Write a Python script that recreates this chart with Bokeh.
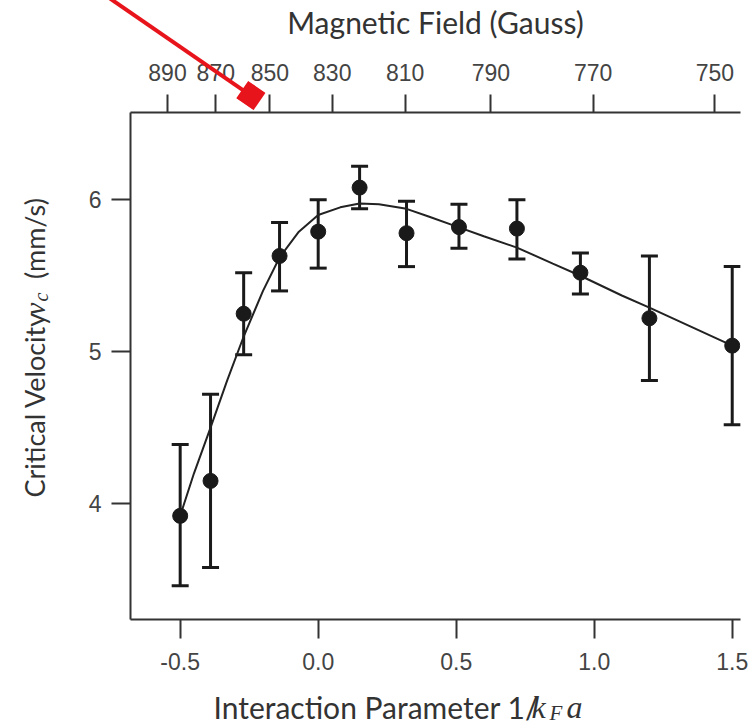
import math
from bokeh.plotting import figure
from bokeh.models import (ColumnDataSource, Whisker, TeeHead, LinearAxis, FixedTicker,
                          Range1d, Label, Arrow, NormalHead, CustomJSTickFormatter,
                          NumeralTickFormatter)
from bokeh.embed import file_html
from bokeh.resources import INLINE

# ---------------- data ----------------
interaction = [-0.50, -0.39, -0.27, -0.14, 0.00, 0.15, 0.32, 0.51, 0.72, 0.95, 1.20, 1.50]
velocity    = [3.92, 4.15, 5.25, 5.63, 5.79, 6.08, 5.78, 5.82, 5.81, 5.52, 5.22, 5.04]
err_upper   = [4.39, 4.72, 5.52, 5.85, 6.00, 6.22, 5.99, 5.97, 6.00, 5.65, 5.63, 5.56]
err_lower   = [3.46, 3.58, 4.98, 5.40, 5.55, 5.94, 5.56, 5.68, 5.61, 5.38, 4.81, 4.52]

fit_x = [-0.50, -0.45, -0.39, -0.33, -0.27, -0.20, -0.14, -0.07, 0.00, 0.08, 0.15,
         0.22, 0.32, 0.40, 0.50, 0.60, 0.72, 0.85, 0.95, 1.10, 1.20, 1.35, 1.50]
fit_v = [3.92, 4.20, 4.50, 4.81, 5.10, 5.40, 5.62, 5.79, 5.90, 5.95, 5.975,
         5.97, 5.94, 5.89, 5.825, 5.76, 5.685, 5.58, 5.50, 5.37, 5.29, 5.165, 5.04]

bottom_ticks = [-0.5, 0.0, 0.5, 1.0, 1.5]
left_ticks = [4, 5, 6]
field_labels = ["890", "870", "850", "830", "810", "790", "770", "750"]
field_tick_pos = [-0.546, -0.371, -0.175, 0.051, 0.315, 0.626, 0.996, 1.437]

# ---------------- layout ----------------
W, H = 756, 726
FL, FR, FT, FB = 129, 740, 111, 619
X0, X1 = -0.680, 1.530
Y0, Y1 = 3.238, 6.574

p = figure(width=W, height=H, x_range=Range1d(X0, X1), y_range=Range1d(Y0, Y1),
           output_backend="svg", toolbar_location=None,
           min_border_left=FL, min_border_right=W - FR,
           min_border_top=FT, min_border_bottom=H - FB)
p.grid.visible = False
p.outline_line_color = None
p.background_fill_color = "white"
p.border_fill_color = "white"

AX = "#333333"
TICK_FONT = "Liberation Sans"
LABEL_FONT = "Lato"
SERIF = "Liberation Serif"


def style(ax, standoff, tick_out=19):
    ax.axis_line_color = AX
    ax.axis_line_width = 2
    ax.major_tick_line_color = AX
    ax.major_tick_line_width = 2
    ax.major_tick_in = 0
    ax.major_tick_out = tick_out
    ax.minor_tick_line_color = None
    ax.major_label_text_font = TICK_FONT
    ax.major_label_text_font_size = "23px"
    ax.major_label_text_color = "#444444"
    ax.major_label_standoff = standoff


# ---------------- axes ----------------
xb = p.xaxis[0]
xb.ticker = FixedTicker(ticks=bottom_ticks)
xb.formatter = NumeralTickFormatter(format="0.0")
style(xb, 14)

yl = p.yaxis[0]
yl.ticker = FixedTicker(ticks=left_ticks)
style(yl, 10)

top_axis = LinearAxis(
    ticker=FixedTicker(ticks=field_tick_pos),
    formatter=CustomJSTickFormatter(args=dict(pos=field_tick_pos, lab=field_labels), code="""
        let best = 0, bd = 1e9;
        for (let i = 0; i < pos.length; i++) {
            const d = Math.abs(pos[i] - tick);
            if (d < bd) { bd = d; best = i; }
        }
        return lab[best];
    """))
style(top_axis, 14, tick_out=18)
top_axis.axis_label = "Magnetic Field (Gauss)"
top_axis.axis_label_text_font = LABEL_FONT
top_axis.axis_label_text_font_size = "30px"
top_axis.axis_label_text_font_style = "normal"
top_axis.axis_label_text_color = AX
top_axis.axis_label_standoff = 21
p.add_layout(top_axis, "above")

# ---------------- glyphs ----------------
src = ColumnDataSource(dict(x=interaction, v=velocity, lo=err_lower, hi=err_upper))

p.line(fit_x, fit_v, line_width=2, line_color="#222222")

p.add_layout(Whisker(base="x", upper="hi", lower="lo", source=src, dimension="height",
                     line_width=3, line_color="#1a1a1a",
                     upper_head=TeeHead(size=17, line_width=3, line_color="#1a1a1a"),
                     lower_head=TeeHead(size=17, line_width=3, line_color="#1a1a1a")))

p.scatter("x", "v", source=src, size=15, fill_color="#1a1a1a", line_color="#1a1a1a")

# ---------------- axis titles (canvas pixel Labels held in the side panels) ----------------
C = dict(x_units="canvas", y_units="canvas", text_color=AX,
         text_align="left", text_baseline="alphabetic")
A = math.pi / 2

# left title: rotated, drawn on the left
p.add_layout(Label(x=34, y=497, text="Critical Velocity\u2003\u2002(mm/s)", angle=A,
                   text_font=LABEL_FONT, text_font_size="27px", **C), "left")
p.add_layout(Label(x=40, y=301, text="c", angle=A, text_font=SERIF,
                   text_font_style="italic", text_font_size="20px", **C), "left")
p.add_layout(Label(x=34, y=315, text="v", angle=A, text_font=SERIF,
                   text_font_style="italic", text_font_size="29px", **C), "below")

# bottom title: drawn along the bottom
p.add_layout(Label(x=213, y=706, text="Interaction Parameter 1/",
                   text_font=LABEL_FONT, text_font_size="30px", **C), "below")
p.add_layout(Label(x=531, y=706, text="k", text_font=SERIF, text_font_style="italic",
                   text_font_size="32px", **C), "left")
p.add_layout(Label(x=566, y=706, text="a", text_font=SERIF, text_font_style="italic",
                   text_font_size="32px", **C), "left")
p.add_layout(Label(x=549, y=712, text="F", text_font=SERIF, text_font_style="italic",
                   text_font_size="21px", **C), "right")

# ---------------- red arrow overlay (canvas pixels) ----------------
RED = "#e8141b"
sx0, sy0, tx, ty = 95.0, -12.0, 259.0, 101.0
L = math.hypot(tx - sx0, ty - sy0)
ux, uy = (tx - sx0) / L, (ty - sy0) / L
# shaft: the body shows through the (large) head region outside the frame
p.add_layout(Arrow(x_start=sx0, y_start=sy0, x_end=tx - ux * 6, y_end=ty - uy * 6,
                   start_units="canvas", end_units="canvas", line_color=RED, line_width=4,
                   end=NormalHead(size=L, fill_color=RED, fill_alpha=0.0,
                                  line_color=RED, line_alpha=0.0)))
# head: a wide body clipped by the head shape
p.add_layout(Arrow(x_start=tx - ux * 40, y_start=ty - uy * 40, x_end=tx, y_end=ty,
                   start_units="canvas", end_units="canvas", line_color=RED, line_width=22,
                   end=NormalHead(size=21, fill_color=RED, line_color=RED, line_width=1)))

open("out.html", "w").write(file_html(p, INLINE))
